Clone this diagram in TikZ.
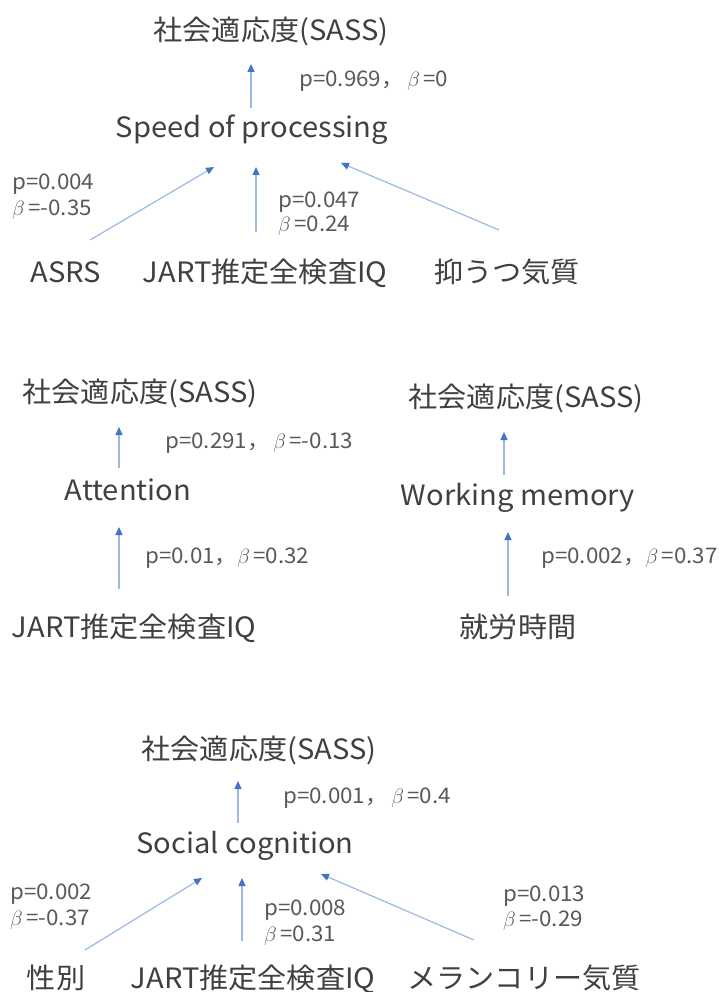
\documentclass[tikz,border=0pt]{standalone}
\usepackage{fontspec}
\setmainfont{Noto Sans CJK JP}
\newfontfamily\varfont{Noto Sans CJK JP}[FakeStretch=1.04]
\newfontfamily\statfont{Noto Sans CJK JP}[FakeStretch=1.04]
\usetikzlibrary{arrows.meta}
\definecolor{txtmain}{HTML}{404040}
\definecolor{txtlab}{HTML}{595959}
\definecolor{linkline}{HTML}{9DB9E6}
\definecolor{linktip}{HTML}{4472C4}
\begin{document}
\begin{tikzpicture}[x=1pt,y=-1pt,
  var/.style={inner sep=0pt,anchor=base,text=txtmain,font=\varfont\fontsize{28}{32}\selectfont},
  stat/.style={inner sep=0pt,anchor=base west,text=txtlab,font=\statfont\fontsize{21.5}{25}\selectfont},
  link/.style={draw=linkline,line width=1.2pt,-{Triangle[length=8pt,width=7pt,color=linktip]}}]
\useasboundingbox[fill=white] (0,0) rectangle (718,992);

% ---- Speed of processing ----
\node[var] (sassA) at (271,41) {社会適応度(SASS)};
\node[var] (spd) at (252,138) {Speed of processing};
\node[var] (asrs) at (66,282) {ASRS};
\node[var] (iqA) at (265,282) {JART推定全検査IQ};
\node[var] (dep) at (507,282) {抑うつ気質};
\node[stat] (sA) at (299,87) {p=0.969，\,$\beta$\,=0};
\node[stat] (sA1) at (12,190) {p=0.004};
\node[stat] (sA1b) at (12,215) {$\beta$\,=-0.35};
\node[stat] (sA2) at (278,208) {p=0.047};
\node[stat] (sA2b) at (278,232) {$\beta$\,=0.24};
\coordinate (spdTop) at (251,108);
\coordinate (sassAin) at (251,64);
\coordinate (asrsOut) at (90,240);
\coordinate (spdInL) at (214,167);
\coordinate (iqAOut) at (256,232);
\coordinate (spdInM) at (256,167);
\coordinate (depOut) at (499,230);
\coordinate (spdInR) at (341,163);
\draw[link] (spdTop) -- (sassAin);
\draw[link] (asrsOut) -- (spdInL);
\draw[link] (iqAOut) -- (spdInM);
\draw[link] (depOut) -- (spdInR);

% ---- Attention ----
\node[var] (sassB) at (140,402) {社会適応度(SASS)};
\node[var] (att) at (128,500) {Attention};
\node[var] (iqB) at (134,637) {JART推定全検査IQ};
\node[stat] (sB1) at (165,448) {p=0.291，\,$\beta$\,=-0.13};
\node[stat] (sB2) at (145,563) {p=0.01，$\beta$\,=0.32};
\coordinate (attTop) at (119,468);
\coordinate (sassBin) at (119,427);
\coordinate (iqBOut) at (119,589);
\coordinate (attIn) at (119,527);
\draw[link] (attTop) -- (sassBin);
\draw[link] (iqBOut) -- (attIn);

% ---- Working memory ----
\node[var] (sassC) at (526,407) {社会適応度(SASS)};
\node[var] (wm) at (518,505) {Working memory};
\node[var] (work) at (518,637) {就労時間};
\node[stat] (sC2) at (541,563) {p=0.002，$\beta$\,=0.37};
\coordinate (wmTop) at (504,475);
\coordinate (sassCin) at (504,432);
\coordinate (workOut) at (508,596);
\coordinate (wmIn) at (508,532);
\draw[link] (wmTop) -- (sassCin);
\draw[link] (workOut) -- (wmIn);

% ---- Social cognition ----
\node[var] (sassD) at (259,759) {社会適応度(SASS)};
\node[var] (soc) at (245,853) {Social cognition};
\node[var] (sex) at (56,988) {性別};
\node[var] (iqD) at (253,988) {JART推定全検査IQ};
\node[var] (mel) at (524,988) {メランコリー気質};
\node[stat] (sD) at (283,803) {p=0.001，\,$\beta$\,=0.4};
\node[stat] (sD1) at (10,899) {p=0.002};
\node[stat] (sD1b) at (10,925) {$\beta$\,=-0.37};
\node[stat] (sD2) at (264,915) {p=0.008};
\node[stat] (sD2b) at (264,941) {$\beta$\,=0.31};
\node[stat] (sD3) at (503,901) {p=0.013};
\node[stat] (sD3b) at (503,926) {$\beta$\,=-0.29};
\coordinate (socTop) at (238,823);
\coordinate (sassDin) at (238,781);
\coordinate (sexOut) at (85,950);
\coordinate (socInL) at (202,878);
\coordinate (iqDOut) at (242,941);
\coordinate (socInM) at (242,878);
\coordinate (melOut) at (474,940);
\coordinate (socInR) at (321,874);
\draw[link] (socTop) -- (sassDin);
\draw[link] (sexOut) -- (socInL);
\draw[link] (iqDOut) -- (socInM);
\draw[link] (melOut) -- (socInR);
\end{tikzpicture}
\end{document}
